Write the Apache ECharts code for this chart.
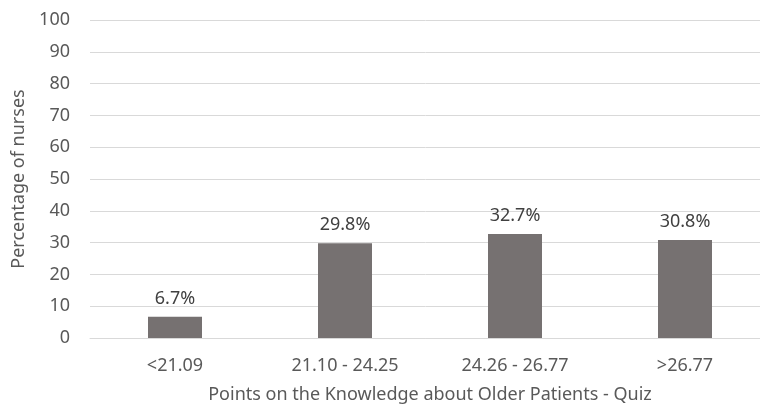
<!DOCTYPE html>
<html><head><meta charset="utf-8">
<script src="https://cdn.jsdelivr.net/npm/echarts@6/dist/echarts.min.js"></script>
<style>html,body{margin:0;padding:0;background:#fff}#c{width:760px;height:409px}</style>
</head><body><div id="c"></div>
<script>
const categories = ['<21.09', '21.10 - 24.25', '24.26 - 26.77', '>26.77'];
const values = [6.7, 29.8, 32.7, 30.8];
const yTicks = [0, 10, 20, 30, 40, 50, 60, 70, 80, 90, 100];
const FONT = 'Noto Sans';
const chart = echarts.init(document.getElementById('c'));
chart.setOption({
  animation: false,
  textStyle: { fontFamily: FONT },
  grid: { left: 90, top: 20, width: 680, height: 318, containLabel: false, outerBoundsMode: 'none' },
  xAxis: {
    type: 'category', data: categories,
    axisLine: { show: true, lineStyle: { color: '#d9d9d9', width: 1 } },
    axisTick: { show: false },
    axisLabel: { color: '#595959', fontSize: 18, margin: 19, fontFamily: FONT },
    name: 'Points on the Knowledge about Older Patients - Quiz',
    nameLocation: 'middle', nameGap: 48,
    nameTextStyle: { color: '#595959', fontSize: 18, fontFamily: FONT }
  },
  yAxis: {
    type: 'value', min: yTicks[0], max: yTicks[yTicks.length - 1], interval: 10,
    axisLine: { show: false }, axisTick: { show: false },
    splitLine: { lineStyle: { color: '#d9d9d9', width: 1 } },
    axisLabel: { color: '#595959', fontSize: 18, margin: 20, fontFamily: FONT },
    name: 'Percentage of nurses', nameLocation: 'middle', nameGap: 62,
    nameTextStyle: { color: '#595959', fontSize: 18, fontFamily: FONT }
  },
  series: [{
    type: 'bar', data: values, barWidth: 54,
    itemStyle: { color: '#767171' },
    label: { show: true, position: 'top', distance: 9, color: '#404040', fontSize: 18, fontFamily: FONT,
      formatter: p => p.value.toFixed(1) + '%' }
  }]
});
</script></body></html>
